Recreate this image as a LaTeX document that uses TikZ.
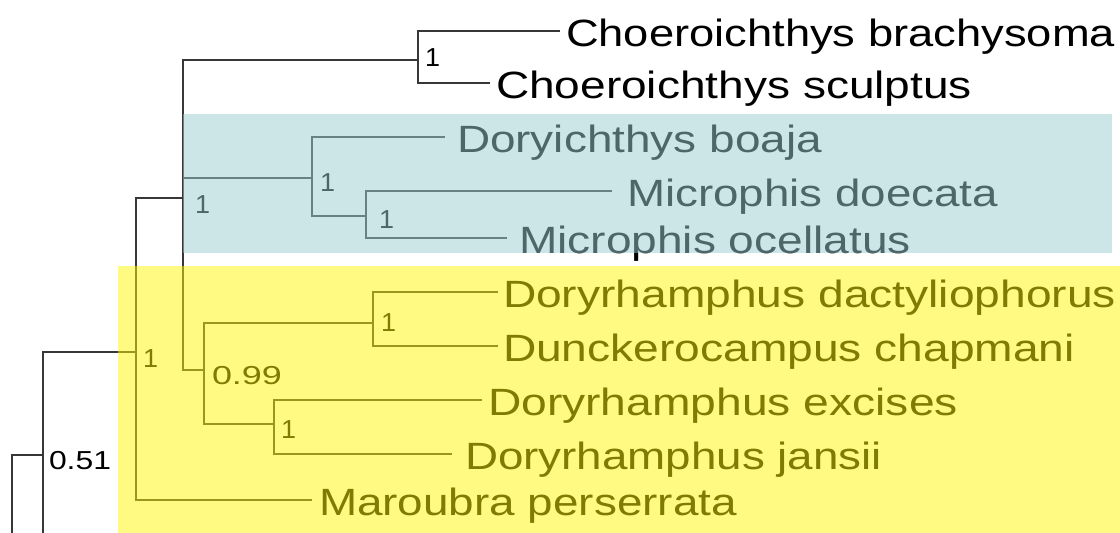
\documentclass[tikz,border=0pt]{standalone}
\usepackage{fontspec}
\setmainfont{Liberation Sans}
\usepackage{graphicx}
\definecolor{linec}{RGB}{55,55,55}
\definecolor{tealc}{RGB}{153,205,210}
\definecolor{yelc}{RGB}{255,247,5}
\newcommand{\taxon}[2]{\resizebox{#1pt}{\height}{\fontsize{38}{40}\selectfont #2}}
\newcommand{\supval}[2]{\resizebox{#1pt}{\height}{\fontsize{26}{28}\selectfont #2}}
\tikzset{
  branch/.style={draw=linec, line width=1.8pt},
  taxlab/.style={anchor=base west, inner sep=0pt, outer sep=0pt, text=black},
  supp/.style={anchor=base west, inner sep=0pt, outer sep=0pt, text=black},
  cladebox/.style={fill opacity=0.5, draw=none}
}
\begin{document}
\begin{tikzpicture}[x=1pt,y=-1pt]
\useasboundingbox (0,0) rectangle (1120,533);
% internal nodes
\coordinate (r0) at (12,533);
\coordinate (n051) at (43,455);
\coordinate (n051b) at (43,533);
\coordinate (n1y) at (136,352);
\coordinate (n1t) at (183,198);
\coordinate (nC) at (418,60);
\coordinate (nT) at (312,178);
\coordinate (nM) at (366,216);
\coordinate (n099) at (204,370);
\coordinate (nDD) at (373,323);
\coordinate (nDJ) at (274,424);
% tips
\coordinate (t1) at (560,31);
\coordinate (t2) at (490,83);
\coordinate (t3) at (445,137);
\coordinate (t4) at (612,191);
\coordinate (t5) at (507,238);
\coordinate (t6) at (498,292);
\coordinate (t7) at (498,346);
\coordinate (t8) at (482,400);
\coordinate (t9) at (452,454);
\coordinate (t10) at (312,500);
% branches
\draw[branch] (r0) |- (n051);
\draw[branch] (n051) -- (n051b);
\draw[branch] (n051) |- (n1y);
\draw[branch] (n1y) |- (n1t);
\draw[branch] (n1y) |- (t10);
\draw[branch] (n1t) |- (nC);
\draw[branch] (n1t) |- (nT);
\draw[branch] (n1t) |- (n099);
\draw[branch] (nC) |- (t1);
\draw[branch] (nC) |- (t2);
\draw[branch] (nT) |- (t3);
\draw[branch] (nT) |- (nM);
\draw[branch] (nM) |- (t4);
\draw[branch] (nM) |- (t5);
\draw[branch] (n099) |- (nDD);
\draw[branch] (n099) |- (nDJ);
\draw[branch] (nDD) |- (t6);
\draw[branch] (nDD) |- (t7);
\draw[branch] (nDJ) |- (t8);
\draw[branch] (nDJ) |- (t9);
% taxon labels
\node[taxlab] (l1) at (566,46) {\taxon{549}{Choeroichthys brachysoma}};
\node[taxlab] (l2) at (496,98) {\taxon{476}{Choeroichthys sculptus}};
\node[taxlab] (l3) at (457,152) {\taxon{365}{Doryichthys boaja}};
\node[taxlab] (l4) at (627,206) {\taxon{371}{Microphis doecata}};
\node[taxlab] (l5) at (519,253) {\taxon{392}{Microphis ocellatus}};
\node[taxlab] (l6) at (503,307) {\taxon{613}{Doryrhamphus dactyliophorus}};
\node[taxlab] (l7) at (503,361) {\taxon{572}{Dunckerocampus chapmani}};
\node[taxlab] (l8) at (488,415) {\taxon{470}{Doryrhamphus excises}};
\node[taxlab] (l9) at (465,469) {\taxon{417}{Doryrhamphus jansii}};
\node[taxlab] (l10) at (319,515) {\taxon{418}{Maroubra perserrata}};
% support values
\node[supp] (sC) at (425,66.5) {\supval{15}{1}};
\node[supp] (s1t) at (195,213.5) {\supval{15}{1}};
\node[supp] (sT) at (320,191.5) {\supval{15}{1}};
\node[supp] (sM) at (379,228.5) {\supval{15}{1}};
\node[supp] (s1y) at (143,367.5) {\supval{15}{1}};
\node[supp] (sDD) at (381,331.5) {\supval{15}{1}};
\node[supp] (s099) at (212,384.5) {\supval{70}{0.99}};
\node[supp] (sDJ) at (281,438.5) {\supval{15}{1}};
\node[supp] (s051) at (49,469.5) {\supval{62}{0.51}};
% clade highlight boxes
\fill[cladebox, tealc] (183,114) rectangle (1112,253);
\fill[cladebox, yelc] (118,266) rectangle (1120,533);
\end{tikzpicture}
\end{document}
